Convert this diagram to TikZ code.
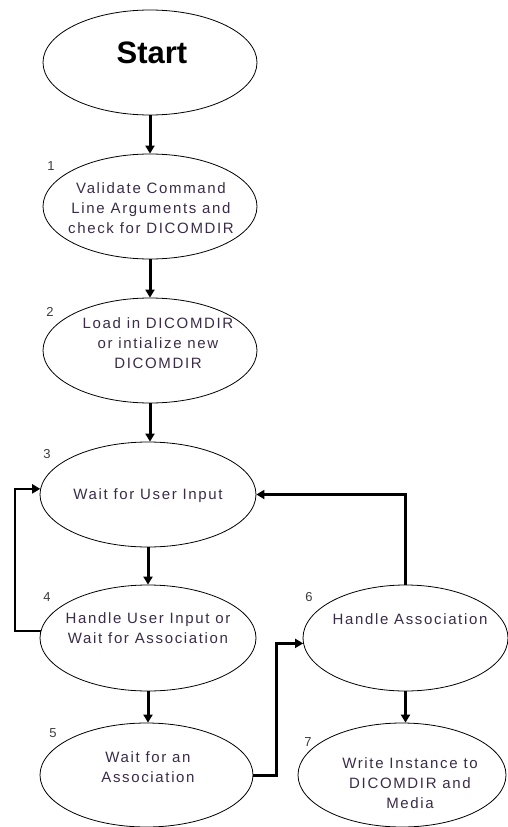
\documentclass[tikz,border=0pt]{standalone}
\usepackage{fontspec}
\setmainfont{Liberation Sans}
\newfontfamily\spaced[LetterSpace=11]{Liberation Sans}
\usetikzlibrary{arrows.meta,shapes.geometric}
\definecolor{txt}{RGB}{58,44,72}
\definecolor{num}{RGB}{60,60,60}
\tikzset{
  ell/.style={draw=black, line width=0.8pt, ellipse, inner sep=0pt},
  lbl/.style={align=center, text=txt, font=\spaced\fontsize{15}{20}\selectfont, inner sep=0pt},
  numlbl/.style={text=num, font=\fontsize{13}{13}\selectfont, inner sep=0pt},
  arr/.style={draw=black, line width=3pt, -{Triangle[length=8pt,width=9pt]}},
}
\begin{document}
\begin{tikzpicture}[x=1pt,y=-1pt]
\useasboundingbox (0,0) rectangle (508,827);
% ellipses
\node[ell, minimum width=214pt, minimum height=105pt] (s) at (150,62.5) {};
\node[ell, minimum width=214pt, minimum height=105pt] (n1) at (150,206.5) {};
\node[ell, minimum width=214pt, minimum height=105pt] (n2) at (150,350.5) {};
\node[ell, minimum width=216pt, minimum height=105pt] (n3) at (148,494.5) {};
\node[ell, minimum width=216pt, minimum height=106pt] (n4) at (148,638) {};
\node[ell, minimum width=213pt, minimum height=104pt] (n5) at (146.5,775) {};
\node[ell, minimum width=205pt, minimum height=106pt] (n6) at (405.5,638) {};
\node[ell, minimum width=208pt, minimum height=104pt] (n7) at (402,775) {};
% texts
\node[font=\bfseries\fontsize{31}{31}\selectfont, inner sep=0pt] (ts) at (152,53) {Start};
\node[lbl] (t1) at (151,208) {Validate Command\\Line Arguments and\\check for DICOMDIR};
\node[lbl] (t2) at (158,343) {Load in DICOMDIR\\or intialize new\\DICOMDIR};
\node[lbl] (t3) at (148,496) {Wait for User Input};
\node[lbl] (t4) at (148,628) {Handle User Input or\\Wait for Association};
\node[lbl] (t5) at (148,767) {Wait for an\\Association};
\node[lbl] (t6) at (410,619) {Handle Association};
\node[lbl] (t7) at (410,783) {Write Instance to\\DICOMDIR and\\Media};
% numbers
\node[numlbl] (l1) at (51,166) {1};
\node[numlbl] (l2) at (50,312) {2};
\node[numlbl] (l3) at (47,454) {3};
\node[numlbl] (l4) at (47,597) {4};
\node[numlbl] (l5) at (53,733) {5};
\node[numlbl] (l6) at (309,597) {6};
\node[numlbl] (l7) at (308,742) {7};
% connectors
\draw[arr] (s.south) -- (n1.north);
\draw[arr] (n1.south) -- (n2.north);
\draw[arr] (n2.south) -- (n2.south |- n3.north);
\draw[arr] (n3.south) -- (n3.south |- n4.north);
\draw[arr] (n4.south) -- (n4.south |- n5.north);
\draw[arr] (n6.south) -- (n6.south |- n7.north);
\draw[arr, line width=2pt] (n4.176) -- ++(-26,0) |- (n3.177);
\draw[arr, line width=3.5pt] (n6.north) |- (n3.east);
\draw[arr] (n5.east) -- ++(23,0) |- (n6.183);
\end{tikzpicture}
\end{document}
